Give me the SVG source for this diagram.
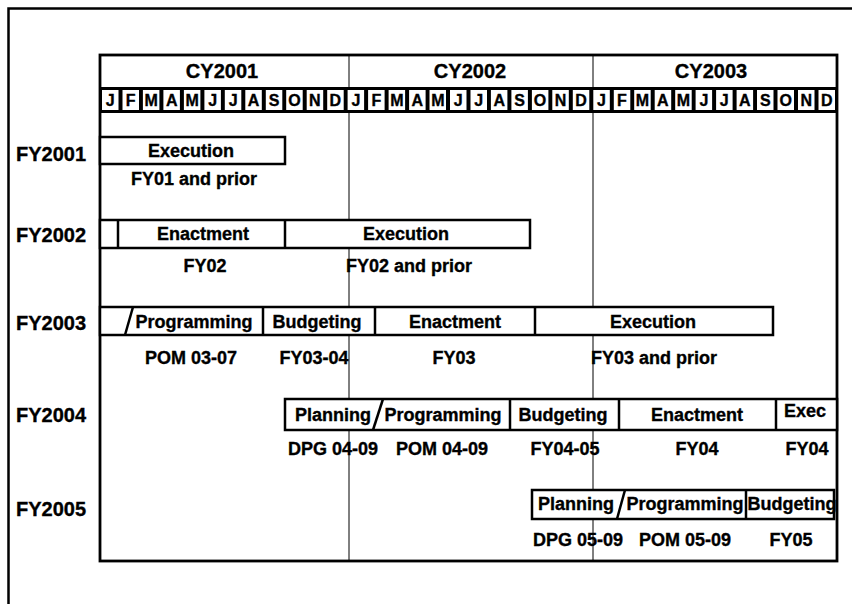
<svg xmlns="http://www.w3.org/2000/svg" width="852" height="604" viewBox="0 0 852 604">
<style>
text{font-family:"Liberation Sans",Arial,sans-serif;font-weight:bold;fill:#000;stroke:#000;stroke-width:0.35}
.bar{fill:#fff;stroke:#000;stroke-width:2.5}
.div{stroke:#000;stroke-width:2.5;fill:none}
.grid{stroke:#000;stroke-width:1;fill:none}
.lbl{font-size:18px;text-anchor:middle}
.row{font-size:20px}
.cy{font-size:20px;text-anchor:middle}
.mo{font-size:16px;text-anchor:middle}
.cell{fill:#fff}
</style>
<rect width="852" height="604" fill="#fff"/>
<g id="frame">
<path d="M8.5 604 V8.5 H852" fill="none" stroke="#000" stroke-width="2.5"/>
</g>
<g id="chart">
<rect x="100" y="55" width="737" height="506" fill="#fff" stroke="#000" stroke-width="2.8"/>
<g id="grid">
<line class="grid" x1="349" y1="55" x2="349" y2="561"/>
<line class="grid" x1="593" y1="55" x2="593" y2="561"/>
</g>
<g id="header">
<text class="cy" x="222" y="78">CY2001</text>
<text class="cy" x="470" y="78">CY2002</text>
<text class="cy" x="711" y="78">CY2003</text>
<rect x="100" y="87" width="737" height="26" fill="#000"/>
<g class="cell">
<rect x="102" y="90" width="16.5" height="20"/><rect x="122.5" y="90" width="16.5" height="20"/><rect x="142.9" y="90" width="16.5" height="20"/><rect x="163.4" y="90" width="16.5" height="20"/><rect x="183.9" y="90" width="16.5" height="20"/><rect x="204.4" y="90" width="16.5" height="20"/><rect x="224.8" y="90" width="16.5" height="20"/><rect x="245.3" y="90" width="16.5" height="20"/><rect x="265.8" y="90" width="16.5" height="20"/><rect x="286.2" y="90" width="16.5" height="20"/><rect x="306.7" y="90" width="16.5" height="20"/><rect x="327.2" y="90" width="16.5" height="20"/>
<rect x="347.6" y="90" width="16.5" height="20"/><rect x="368.1" y="90" width="16.5" height="20"/><rect x="388.6" y="90" width="16.5" height="20"/><rect x="409.1" y="90" width="16.5" height="20"/><rect x="429.5" y="90" width="16.5" height="20"/><rect x="450" y="90" width="16.5" height="20"/><rect x="470.5" y="90" width="16.5" height="20"/><rect x="490.9" y="90" width="16.5" height="20"/><rect x="511.4" y="90" width="16.5" height="20"/><rect x="531.9" y="90" width="16.5" height="20"/><rect x="552.3" y="90" width="16.5" height="20"/><rect x="572.8" y="90" width="16.5" height="20"/>
<rect x="593.3" y="90" width="16.5" height="20"/><rect x="613.8" y="90" width="16.5" height="20"/><rect x="634.2" y="90" width="16.5" height="20"/><rect x="654.7" y="90" width="16.5" height="20"/><rect x="675.2" y="90" width="16.5" height="20"/><rect x="695.6" y="90" width="16.5" height="20"/><rect x="716.1" y="90" width="16.5" height="20"/><rect x="736.6" y="90" width="16.5" height="20"/><rect x="757" y="90" width="16.5" height="20"/><rect x="777.5" y="90" width="16.5" height="20"/><rect x="798" y="90" width="16.5" height="20"/><rect x="818.5" y="90" width="16.5" height="20"/>
</g>
<g class="mo">
<text x="110.2" y="106">J</text><text x="130.7" y="106">F</text><text x="151.2" y="106">M</text><text x="171.7" y="106">A</text><text x="192.1" y="106">M</text><text x="212.6" y="106">J</text><text x="233.1" y="106">J</text><text x="253.5" y="106">A</text><text x="274" y="106">S</text><text x="294.5" y="106">O</text><text x="314.9" y="106">N</text><text x="335.4" y="106">D</text>
<text x="355.9" y="106">J</text><text x="376.4" y="106">F</text><text x="396.8" y="106">M</text><text x="417.3" y="106">A</text><text x="437.8" y="106">M</text><text x="458.2" y="106">J</text><text x="478.7" y="106">J</text><text x="499.2" y="106">A</text><text x="519.6" y="106">S</text><text x="540.1" y="106">O</text><text x="560.6" y="106">N</text><text x="581.1" y="106">D</text>
<text x="601.5" y="106">J</text><text x="622" y="106">F</text><text x="642.5" y="106">M</text><text x="662.9" y="106">A</text><text x="683.4" y="106">M</text><text x="703.9" y="106">J</text><text x="724.3" y="106">J</text><text x="744.8" y="106">A</text><text x="765.3" y="106">S</text><text x="785.8" y="106">O</text><text x="806.2" y="106">N</text><text x="826.7" y="106">D</text>
</g>
</g>
</g>
<g id="fy2001">
<text class="row" x="16" y="161">FY2001</text>
<rect class="bar" x="100" y="137" width="185" height="27"/>
<text class="lbl" x="191" y="157">Execution</text>
<text class="lbl" x="194" y="185">FY01 and prior</text>
</g>
<g id="fy2002">
<text class="row" x="16" y="242">FY2002</text>
<rect class="bar" x="100" y="220" width="430" height="28"/>
<line class="div" x1="118" y1="220" x2="118" y2="248"/>
<line class="div" x1="285" y1="220" x2="285" y2="248"/>
<text class="lbl" x="203" y="240">Enactment</text>
<text class="lbl" x="406" y="240">Execution</text>
<text class="lbl" x="205" y="272">FY02</text>
<text class="lbl" x="409" y="272">FY02 and prior</text>
</g>
<g id="fy2003">
<text class="row" x="16" y="330">FY2003</text>
<rect class="bar" x="100" y="307" width="673" height="28"/>
<line class="div" x1="125" y1="335" x2="133" y2="307"/>
<line class="div" x1="263" y1="307" x2="263" y2="335"/>
<line class="div" x1="375" y1="307" x2="375" y2="335"/>
<line class="div" x1="535" y1="307" x2="535" y2="335"/>
<text class="lbl" x="194" y="328">Programming</text>
<text class="lbl" x="317" y="328">Budgeting</text>
<text class="lbl" x="455" y="328">Enactment</text>
<text class="lbl" x="653" y="328">Execution</text>
<text class="lbl" x="191" y="364">POM 03-07</text>
<text class="lbl" x="314" y="364">FY03-04</text>
<text class="lbl" x="454" y="364">FY03</text>
<text class="lbl" x="654" y="364">FY03 and prior</text>
</g>
<g id="fy2004">
<text class="row" x="16" y="422">FY2004</text>
<rect class="bar" x="285" y="399" width="552" height="31"/>
<line class="div" x1="373" y1="430" x2="383" y2="399"/>
<line class="div" x1="510" y1="399" x2="510" y2="430"/>
<line class="div" x1="619" y1="399" x2="619" y2="430"/>
<line class="div" x1="776" y1="399" x2="776" y2="430"/>
<text class="lbl" x="333" y="421">Planning</text>
<text class="lbl" x="443" y="421">Programming</text>
<text class="lbl" x="563" y="421">Budgeting</text>
<text class="lbl" x="697" y="421">Enactment</text>
<text class="lbl" x="805" y="417">Exec</text>
<text class="lbl" x="333" y="455">DPG 04-09</text>
<text class="lbl" x="442" y="455">POM 04-09</text>
<text class="lbl" x="565" y="455">FY04-05</text>
<text class="lbl" x="697" y="455">FY04</text>
<text class="lbl" x="807" y="455">FY04</text>
</g>
<g id="fy2005">
<text class="row" x="16" y="516">FY2005</text>
<rect class="bar" x="532" y="490" width="302" height="29"/>
<line class="div" x1="617" y1="519" x2="625" y2="490"/>
<line class="div" x1="746" y1="490" x2="746" y2="519"/>
<text class="lbl" x="576" y="510">Planning</text>
<text class="lbl" x="685" y="510">Programming</text>
<text class="lbl" x="792" y="510">Budgeting</text>
<text class="lbl" x="578" y="546">DPG 05-09</text>
<text class="lbl" x="685" y="546">POM 05-09</text>
<text class="lbl" x="791" y="546">FY05</text>
</g>
</svg>
